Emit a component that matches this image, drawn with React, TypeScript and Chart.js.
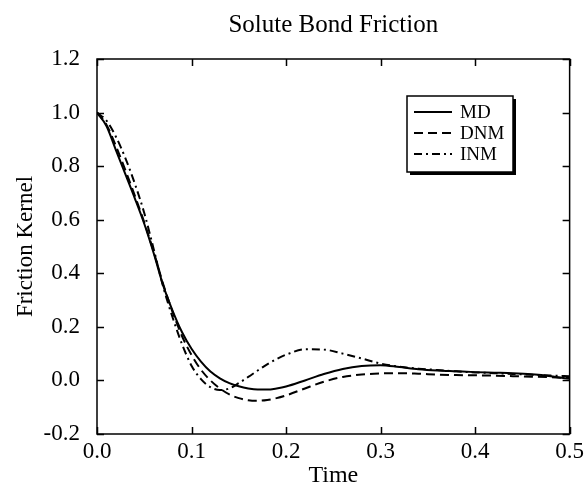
import React, { useEffect, useRef } from "react";
import { Chart, registerables } from "chart.js";

Chart.register(...registerables);

const chartTitle = "Solute Bond Friction";
const xTitle = "Time";
const yTitle = "Friction Kernel";

const times = [
  0, 0.01, 0.02, 0.03, 0.04, 0.05, 0.06, 0.07, 0.08, 0.09, 0.1, 0.11, 0.12, 0.13, 0.14, 0.15, 0.16, 0.17,
  0.18, 0.19, 0.2, 0.22, 0.24, 0.26, 0.28, 0.3, 0.32, 0.34, 0.36, 0.38, 0.4, 0.42, 0.44, 0.46, 0.48, 0.5,
];

const mdValues = [
  1.0, 0.95, 0.86, 0.77, 0.68, 0.585, 0.475, 0.355, 0.26, 0.18, 0.118, 0.07, 0.033, 0.008, -0.01, -0.022,
  -0.03, -0.034, -0.034, -0.03, -0.023, 0.0, 0.024, 0.043, 0.054, 0.057, 0.05, 0.042, 0.037, 0.034, 0.031,
  0.029, 0.027, 0.023, 0.016, 0.006,
];

const dnmValues = [
  1.0, 0.955, 0.875, 0.785, 0.69, 0.59, 0.48, 0.36, 0.255, 0.165, 0.095, 0.04, 0.0, -0.03, -0.052, -0.066,
  -0.074, -0.076, -0.073, -0.066, -0.056, -0.03, -0.005, 0.013, 0.022, 0.026, 0.027, 0.025, 0.022, 0.02,
  0.019, 0.018, 0.016, 0.014, 0.012, 0.009,
];

const inmValues = [
  1.0, 0.97, 0.91, 0.83, 0.735, 0.625, 0.49, 0.35, 0.235, 0.135, 0.055, 0.005, -0.025, -0.036, -0.03, -0.01,
  0.013, 0.037, 0.06, 0.08, 0.096, 0.116, 0.115, 0.1, 0.082, 0.063, 0.051, 0.044, 0.039, 0.034, 0.03, 0.027,
  0.024, 0.021, 0.018, 0.016,
];

const seriesLabels = ["MD", "DNM", "INM"];
const xTickMin = 0;
const xTickMax = 0.5;
const xTickStep = 0.1;
const yTickMin = -0.2;
const yTickMax = 1.2;
const yTickStep = 0.2;

const FONT = "'Liberation Serif', 'Times New Roman', Times, serif";

const fmt = (v: any) => {
  const n = Math.round(Number(v) * 10) / 10;
  return (n === 0 ? 0 : n).toFixed(1);
};

const framePlugin = {
  id: "frameTicksLegend",
  afterDatasetsDraw(chart: any) {
    const { ctx, chartArea: a, scales } = chart;
    ctx.save();
    ctx.strokeStyle = "#000";
    ctx.lineWidth = 1.5;
    ctx.setLineDash([]);
    ctx.strokeRect(a.left, a.top, a.right - a.left, a.bottom - a.top);
    const L = 7;
    ctx.beginPath();
    scales.x.ticks.forEach((t: any) => {
      const px = Math.round(scales.x.getPixelForValue(t.value)) + 0.5;
      ctx.moveTo(px, a.bottom);
      ctx.lineTo(px, a.bottom - L);
      ctx.moveTo(px, a.top);
      ctx.lineTo(px, a.top + L);
    });
    scales.y.ticks.forEach((t: any) => {
      const py = Math.round(scales.y.getPixelForValue(t.value)) + 0.5;
      ctx.moveTo(a.left, py);
      ctx.lineTo(a.left + L, py);
      ctx.moveTo(a.right, py);
      ctx.lineTo(a.right - L, py);
    });
    ctx.stroke();

    // legend box
    const bx = a.left + 310;
    const by = a.top + 37;
    const bw = 106;
    const bh = 76;
    ctx.fillStyle = "#000";
    ctx.fillRect(bx + 3, by + 3, bw, bh);
    ctx.fillStyle = "#fff";
    ctx.fillRect(bx, by, bw, bh);
    ctx.lineWidth = 1.5;
    ctx.strokeRect(bx, by, bw, bh);

    const rowY = [16, 37, 58];
    chart.data.datasets.forEach((ds: any, i: number) => {
      const y = by + rowY[i];
      ctx.beginPath();
      ctx.setLineDash(ds.borderDash || []);
      ctx.lineWidth = 2;
      ctx.strokeStyle = "#000";
      ctx.moveTo(bx + 7, y);
      ctx.lineTo(bx + 45, y);
      ctx.stroke();
      ctx.setLineDash([]);
      ctx.fillStyle = "#000";
      ctx.font = `19px ${FONT}`;
      ctx.textBaseline = "middle";
      ctx.textAlign = "left";
      ctx.fillText(ds.label, bx + 53, y + 1);
    });
    ctx.restore();
  },
};

export default function App() {
  const ref = useRef<HTMLCanvasElement | null>(null);
  useEffect(() => {
    if (!ref.current) return;
    const mk = (vals: number[]) => times.map((t, i) => ({ x: t, y: vals[i] }));
    const chart = new Chart(ref.current, {
      type: "line",
      data: {
        datasets: [
          {
            label: seriesLabels[0],
            data: mk(mdValues),
            borderColor: "#000",
            borderWidth: 2,
            borderDash: [],
            pointRadius: 0,
            cubicInterpolationMode: "monotone",
          },
          {
            label: seriesLabels[1],
            data: mk(dnmValues),
            borderColor: "#000",
            borderWidth: 2,
            borderDash: [9, 5],
            pointRadius: 0,
            cubicInterpolationMode: "monotone",
          },
          {
            label: seriesLabels[2],
            data: mk(inmValues),
            borderColor: "#000",
            borderWidth: 2,
            borderDash: [8, 4, 2, 4],
            pointRadius: 0,
            cubicInterpolationMode: "monotone",
          },
        ],
      },
      options: {
        animation: false,
        responsive: false,
        devicePixelRatio: 1,
        layout: { padding: { left: 0, right: 15, top: 0, bottom: 0 } },
        plugins: {
          legend: { display: false },
          tooltip: { enabled: false },
          title: {
            display: true,
            fullSize: false,
            text: chartTitle,
            color: "#000",
            font: { family: FONT, size: 25, weight: "normal" },
            padding: { top: 10, bottom: 19 },
          },
        },
        scales: {
          x: {
            type: "linear",
            min: xTickMin,
            max: xTickMax,
            grid: { display: false, drawTicks: false },
            border: { display: false },
            ticks: {
              stepSize: xTickStep,
              color: "#000",
              padding: 4,
              font: { family: FONT, size: 23 },
              callback: fmt,
            },
            title: {
              display: true,
              text: xTitle,
              color: "#000",
              font: { family: FONT, size: 24 },
              padding: { top: 0, bottom: 2 },
            },
            afterFit: (s: any) => {
              s.height = 58;
            },
          },
          y: {
            type: "linear",
            min: yTickMin,
            max: yTickMax,
            grid: { display: false, drawTicks: false },
            border: { display: false },
            ticks: {
              stepSize: yTickStep,
              color: "#000",
              padding: 17,
              font: { family: FONT, size: 23 },
              callback: fmt,
            },
            title: {
              display: true,
              text: yTitle,
              color: "#000",
              font: { family: FONT, size: 23 },
              padding: { top: 12, bottom: 0 },
            },
            afterFit: (s: any) => {
              s.width = 97;
            },
          },
        },
      },
      plugins: [framePlugin],
    });
    return () => chart.destroy();
  }, []);
  return (
    <div style={{ position: "absolute", left: 0, top: 0, width: 588, height: 492, background: "#fff" }}>
      <canvas ref={ref} width={588} height={492} style={{ width: 588, height: 492 }} />
    </div>
  );
}
